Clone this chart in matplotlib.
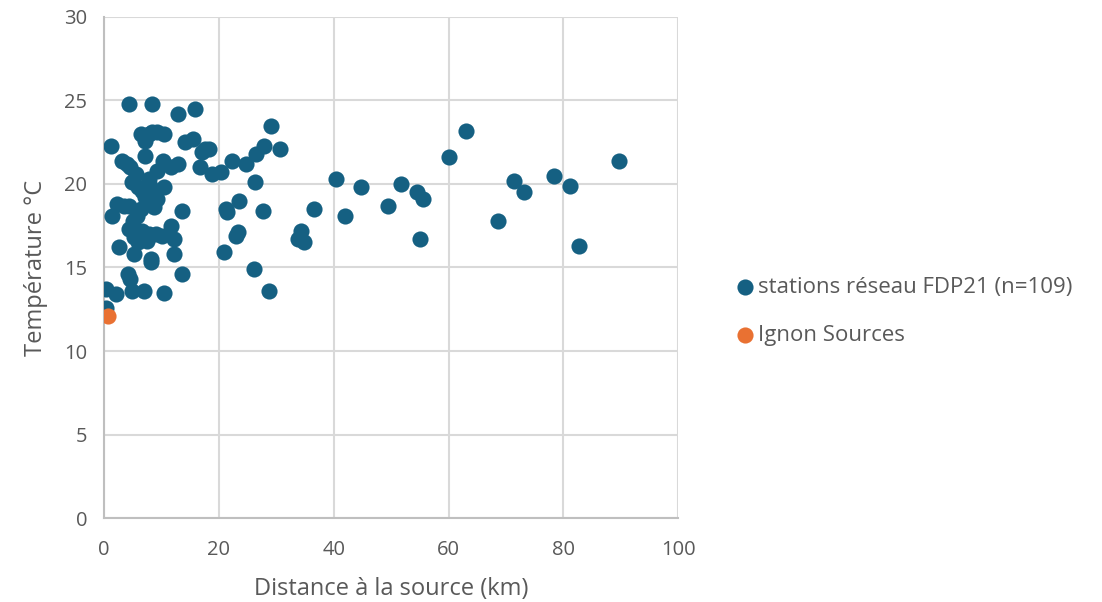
import matplotlib
matplotlib.use("Agg")
import matplotlib.pyplot as plt

# Stations of the FDP21 network: distance to source (km) and temperature (°C)
dist_km = [
    4.3, 8.4, 12.8, 15.9,
    6.4, 8.4, 10.4, 7.2, 7.8, 9.2,
    1.3, 14.1, 15.5, 17.1, 18.3, 17.5,
    7.1, 3.2, 4.6, 5.5, 4.0,
    10.3, 12.8, 11.6, 9.3, 16.8, 18.8, 20.3,
    4.9, 7.8, 10.4, 6.7, 8.4, 9.3, 7.2, 6.0, 8.0,
    2.3, 4.3, 8.7, 5.8, 13.5, 1.4, 3.5, 5.8, 6.4,
    4.3, 6.7, 7.8, 11.6, 10.1, 12.2, 5.3, 7.5, 9.0, 6.0,
    2.6, 5.2, 8.1, 8.1, 12.2, 6.0,
    4.1, 4.6, 13.5,
    0.3, 2.0, 4.9, 7.0, 10.4,
    0.3,
    29.0, 27.9, 30.7, 26.5, 22.3, 24.8, 26.3, 23.5, 21.2, 21.5,
    27.7, 36.6, 40.4, 44.7, 42.0, 49.4, 51.7, 54.5, 55.5, 55.0,
    60.1, 63.0, 68.7, 71.4, 73.2, 78.3, 81.2, 82.8, 89.7,
    23.4, 22.9, 20.9, 26.2, 28.7, 34.3, 33.7, 34.8,
    5.0, 7.5,
]
temp_c = [
    24.8, 24.8, 24.2, 24.5,
    23.0, 23.1, 23.0, 22.6, 23.0, 23.1,
    22.3, 22.5, 22.7, 21.9, 22.1, 22.1,
    21.7, 21.4, 21.0, 20.6, 21.2,
    21.4, 21.2, 21.0, 20.8, 21.0, 20.6, 20.7,
    20.1, 20.3, 19.8, 19.6, 19.5, 19.1, 19.2, 19.8, 19.9,
    18.8, 18.7, 18.6, 18.3, 18.4, 18.1, 18.7, 18.1, 18.5,
    17.3, 17.2, 17.0, 17.5, 16.9, 16.7, 16.8, 16.6, 17.0, 17.0,
    16.2, 15.8, 15.5, 15.3, 15.8, 16.5,
    14.6, 14.3, 14.6,
    13.7, 13.4, 13.6, 13.6, 13.5,
    12.6,
    23.5, 22.3, 22.1, 21.8, 21.4, 21.2, 20.1, 19.0, 18.5, 18.3,
    18.4, 18.5, 20.3, 19.8, 18.1, 18.7, 20.0, 19.5, 19.1, 16.7,
    21.6, 23.2, 17.8, 20.2, 19.5, 20.5, 19.9, 16.3, 21.4,
    17.1, 16.9, 15.9, 14.9, 13.6, 17.2, 16.7, 16.5,
    17.8, 19.5,
]

# Ignon Sources
ignon_dist = [0.7]
ignon_temp = [12.1]

plt.rcParams["font.family"] = ["Open Sans", "DejaVu Sans"]
text_col = "#595959"
grid_col = "#D9D9D9"

fig = plt.figure(figsize=(11.02, 6.02), dpi=100)
ax = fig.add_axes([0.0944, 0.1395, 0.521, 0.8323])

ax.scatter(dist_km, temp_c, s=135, color="#156082", linewidths=0,
           label="stations réseau FDP21 (n=109)", zorder=3)
ax.scatter(ignon_dist, ignon_temp, s=135, color="#E97132", linewidths=0,
           label="Ignon Sources", zorder=4)

ax.set_xlim(0, 100)
ax.set_ylim(0, 30)
ax.set_xticks(range(0, 101, 20))
ax.set_yticks(range(0, 31, 5))
ax.grid(True, color=grid_col, linewidth=1.5, zorder=0)
ax.set_axisbelow(True)
ax.tick_params(length=0, labelsize=14.5, labelcolor=text_col)
ax.tick_params(axis="x", pad=16)
ax.tick_params(axis="y", pad=12)

for side in ["top", "right"]:
    ax.spines[side].set_visible(False)
for side in ["left", "bottom"]:
    ax.spines[side].set_color("#BFBFBF")
    ax.spines[side].set_linewidth(1.5)

ax.set_xlabel("Distance à la source (km)", fontsize=17, color=text_col, labelpad=12)
ax.set_ylabel("Température °C", fontsize=17, color=text_col, labelpad=12)

fig.legend(loc="center left", bbox_to_anchor=(0.6376, 0.4826), frameon=False,
           fontsize=16, labelcolor=text_col, handletextpad=-0.4,
           labelspacing=1.2, markerscale=1.0)

fig.savefig("out.png", dpi=100)
